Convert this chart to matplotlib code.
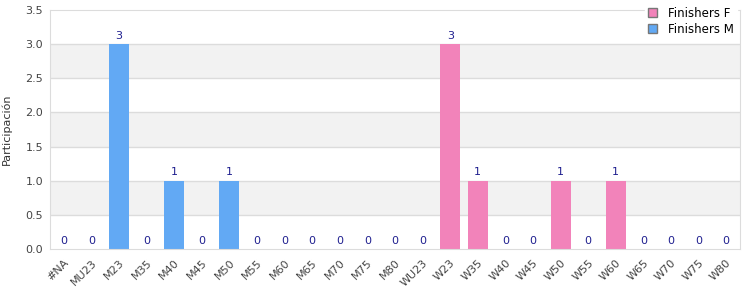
import numpy as np
import matplotlib.pyplot as plt
from matplotlib.patches import Patch

categories = ['#NA', 'MU23', 'M23', 'M35', 'M40', 'M45', 'M50', 'M55', 'M60',
              'M65', 'M70', 'M75', 'M80', 'WU23', 'W23', 'W35', 'W40', 'W45',
              'W50', 'W55', 'W60', 'W65', 'W70', 'W75', 'W80']
finishers_m = [0, 0, 3, 0, 1, 0, 1, 0, 0, 0, 0, 0, 0, 0, 0, 0, 0, 0, 0, 0, 0, 0, 0, 0, 0]
finishers_f = [0, 0, 0, 0, 0, 0, 0, 0, 0, 0, 0, 0, 0, 0, 3, 1, 0, 0, 1, 0, 1, 0, 0, 0, 0]

blue = '#62a9f4'
pink = '#f283ba'
grid_c = '#dcdcdc'

x = np.arange(len(categories))
totals = np.array(finishers_m) + np.array(finishers_f)

fig = plt.figure(figsize=(7.5, 3), dpi=100)
ax = fig.add_axes([0.0667, 0.17, 0.92, 0.797])

# alternating bands
for i, lo in enumerate(np.arange(0, 3.5, 0.5)):
    if i % 2 == 1:
        ax.axhspan(lo, lo + 0.5, color='#f2f2f2', zorder=0, lw=0)
for y in np.arange(0.5, 3.5, 0.5):
    ax.axhline(y, color=grid_c, lw=1, zorder=1)

ax.bar(x, finishers_m, width=0.72, color=blue, zorder=2)
ax.bar(x, finishers_f, width=0.72, color=pink, zorder=2)

for xi, v in zip(x, totals):
    ax.text(xi, v + 0.05, str(v), ha='center', va='bottom',
            fontsize=8, color='#1f1f8f', zorder=3)

ax.set_xlim(-0.5, len(categories) - 0.5)
ax.set_ylim(0, 3.5)
ax.set_yticks(np.arange(0, 3.51, 0.5))
ax.set_yticklabels(['{:.1f}'.format(v) for v in np.arange(0, 3.51, 0.5)])
ax.set_xticks(x)
ax.set_xticklabels(categories, rotation=45, ha='right', rotation_mode='anchor')
ax.tick_params(axis='both', labelsize=8, colors='#444444', length=0)
ax.tick_params(axis='x', pad=6)
ax.tick_params(axis='y', pad=5)
ax.set_ylabel('Participación', fontsize=8, color='#333333', labelpad=10)
for s in ax.spines.values():
    s.set_color(grid_c)

handles = [Patch(facecolor=pink, edgecolor='#777777', label='Finishers F'),
           Patch(facecolor=blue, edgecolor='#777777', label='Finishers M')]
leg = fig.legend(handles=handles, loc='upper right', bbox_to_anchor=(0.99, 1.005),
                 fontsize=8.5, frameon=True, handlelength=0.75, handleheight=0.75,
                 labelspacing=0.25, handletextpad=1.0, borderpad=0.2)
leg.get_frame().set_edgecolor('white')
leg.get_frame().set_facecolor('white')
leg.get_frame().set_alpha(1)
leg.set_zorder(10)

plt.savefig('out.png', dpi=100)
